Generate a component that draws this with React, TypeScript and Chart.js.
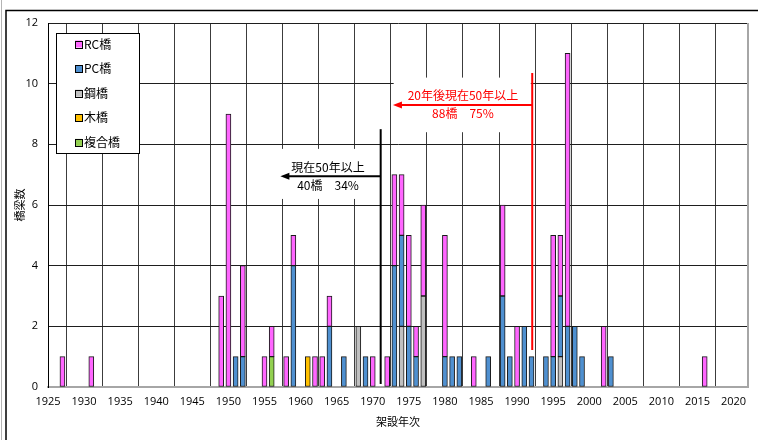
import React, { useEffect, useRef } from 'react';
import { Chart, registerables } from 'chart.js';

Chart.register(...registerables);

// ---- data ----
const years = [1927, 1931, 1949, 1950, 1951, 1952, 1955, 1956, 1958, 1959, 1961, 1962, 1963, 1964, 1966, 1968, 1969, 1970, 1972, 1973, 1974, 1975, 1976, 1977, 1980, 1981, 1982, 1984, 1986, 1988, 1989, 1990, 1991, 1992, 1994, 1995, 1996, 1997, 1998, 1999, 2002, 2003, 2016];
const rcBridges = [1, 1, 3, 9, 0, 3, 1, 1, 1, 1, 0, 1, 1, 1, 0, 0, 0, 1, 1, 3, 2, 3, 1, 3, 4, 0, 0, 1, 0, 3, 0, 2, 0, 0, 0, 4, 2, 9, 0, 0, 2, 0, 1];
const pcBridges = [0, 0, 0, 0, 1, 1, 0, 0, 0, 4, 0, 0, 0, 2, 1, 0, 1, 0, 0, 4, 3, 2, 1, 0, 1, 1, 1, 0, 1, 3, 1, 0, 2, 1, 1, 1, 2, 2, 2, 1, 0, 1, 0];
const steelBridges = [0, 0, 0, 0, 0, 0, 0, 0, 0, 0, 0, 0, 0, 0, 0, 2, 0, 0, 0, 0, 2, 0, 0, 3, 0, 0, 0, 0, 0, 0, 0, 0, 0, 0, 0, 0, 1, 0, 0, 0, 0, 0, 0];
const woodBridges = [0, 0, 0, 0, 0, 0, 0, 0, 0, 0, 1, 0, 0, 0, 0, 0, 0, 0, 0, 0, 0, 0, 0, 0, 0, 0, 0, 0, 0, 0, 0, 0, 0, 0, 0, 0, 0, 0, 0, 0, 0, 0, 0];
const compositeBridges = [0, 0, 0, 0, 0, 0, 0, 1, 0, 0, 0, 0, 0, 0, 0, 0, 0, 0, 0, 0, 0, 0, 0, 0, 0, 0, 0, 0, 0, 0, 0, 0, 0, 0, 0, 0, 0, 0, 0, 0, 0, 0, 0];

const seriesNames = ['RC橋', 'PC橋', '鋼橋', '木橋', '複合橋'];
const seriesColors = ['#ff66ff', '#4f90d0', '#c0c0c0', '#ffc000', '#92d050'];

const xMin = 1925;
const xMax = 2022;
const xTickValues = [1925, 1930, 1935, 1940, 1945, 1950, 1955, 1960, 1965, 1970, 1975, 1980, 1985, 1990, 1995, 2000, 2005, 2010, 2015, 2020];
const yMax = 12;
const yStep = 2;

const xTitle = '架設年次';
const yTitle = '橋梁数';

// annotations (data coordinates)
const nowLabel = ['現在50年以上', '40橋　34%'];
const nowLine = { year: 1971.1, top: 8.5, bottom: 0.1, arrowY: 6.95, arrowTip: 1957.2, textYear: 1963.8 };
const nowBox = { x0: 1956.5, x1: 1970.8, y0: 7.85, y1: 6.2 };
const futureLabel = ['20年後現在50年以上', '88橋　75%'];
const futureLine = { year: 1992.1, top: 10.35, bottom: 1.22, arrowY: 9.3, arrowTip: 1972.8, textYear: 1982.5 };
const futureBox = { x0: 1972.9, x1: 1991.9, y0: 10.2, y1: 8.4 };

const CJK = '"Noto Sans CJK JP", "Noto Sans", sans-serif';
const NUM = '"Open Sans", "Liberation Sans", sans-serif';

function points(values: number[]) {
  return years.map((yr, i) => ({ x: yr, y: values[i] > 0 ? values[i] : null }));
}

function drawAnnotation(chart: any, line: any, box: any, labels: string[], color: string) {
  const ctx = chart.ctx;
  const xs = chart.scales.x;
  const ys = chart.scales.y;
  ctx.save();
  const bx0 = xs.getPixelForValue(box.x0);
  const bx1 = xs.getPixelForValue(box.x1);
  const by0 = ys.getPixelForValue(box.y0);
  const by1 = ys.getPixelForValue(box.y1);
  ctx.fillStyle = '#ffffff';
  ctx.fillRect(bx0, by0, bx1 - bx0, by1 - by0);
  const lx = xs.getPixelForValue(line.year);
  ctx.strokeStyle = color;
  ctx.lineWidth = 2;
  ctx.beginPath();
  ctx.moveTo(lx, ys.getPixelForValue(line.top));
  ctx.lineTo(lx, ys.getPixelForValue(line.bottom));
  ctx.stroke();
  const ay = ys.getPixelForValue(line.arrowY);
  const tip = xs.getPixelForValue(line.arrowTip);
  ctx.beginPath();
  ctx.moveTo(lx, ay);
  ctx.lineTo(tip + 6, ay);
  ctx.stroke();
  ctx.fillStyle = color;
  ctx.beginPath();
  ctx.moveTo(tip, ay);
  ctx.lineTo(tip + 9, ay - 3.5);
  ctx.lineTo(tip + 9, ay + 3.5);
  ctx.closePath();
  ctx.fill();
  const tx = xs.getPixelForValue(line.textYear);
  ctx.font = `12px ${CJK}`;
  ctx.textAlign = 'center';
  ctx.textBaseline = 'middle';
  ctx.fillText(labels[0], tx, ay - 9);
  ctx.fillText(labels[1], tx, ay + 9);
  ctx.restore();
}

const decorPlugin = {
  id: 'decor',
  beforeDraw(chart: any) {
    const ctx = chart.ctx;
    ctx.save();
    ctx.fillStyle = '#ffffff';
    ctx.fillRect(0, 0, chart.width, chart.height);
    ctx.strokeStyle = '#b4b4b4';
    ctx.lineWidth = 1;
    ctx.beginPath();
    ctx.moveTo(1.5, 0);
    ctx.lineTo(1.5, chart.height);
    ctx.stroke();
    ctx.strokeStyle = '#000000';
    ctx.lineWidth = 1.5;
    ctx.beginPath();
    ctx.moveTo(6, chart.height);
    ctx.lineTo(6, 10.5);
    ctx.lineTo(chart.width, 10.5);
    ctx.stroke();
    ctx.restore();
  },
  afterDatasetsDraw(chart: any) {
    const ctx = chart.ctx;
    const a = chart.chartArea;
    ctx.save();
    ctx.strokeStyle = '#a6a6a6';
    ctx.lineWidth = 2;
    ctx.beginPath();
    ctx.moveTo(a.right, a.top);
    ctx.lineTo(a.right, a.bottom);
    ctx.stroke();
    ctx.restore();

    drawAnnotation(chart, nowLine, nowBox, nowLabel, '#000000');
    drawAnnotation(chart, futureLine, futureBox, futureLabel, '#ff0000');

    ctx.save();
    const lx = a.left + 8;
    const ly = a.top + 10;
    const lw = 83;
    const lh = 120;
    ctx.fillStyle = '#ffffff';
    ctx.fillRect(lx, ly, lw, lh);
    ctx.strokeStyle = '#000000';
    ctx.lineWidth = 1;
    ctx.strokeRect(Math.round(lx) + 0.5, Math.round(ly) + 0.5, lw, lh);
    ctx.font = `12px ${CJK}`;
    ctx.textAlign = 'left';
    ctx.textBaseline = 'middle';
    seriesNames.forEach((name, i) => {
      const cy = ly + 11 + i * 24.6;
      ctx.fillStyle = seriesColors[i];
      ctx.fillRect(lx + 19, cy - 3.5, 7, 7);
      ctx.strokeStyle = '#000000';
      ctx.strokeRect(Math.round(lx + 19) + 0.5, Math.round(cy - 3.5) + 0.5, 7, 7);
      ctx.fillStyle = '#000000';
      ctx.fillText(name, lx + 28, cy);
    });

    ctx.font = `11px ${CJK}`;
    ctx.textAlign = 'center';
    ctx.textBaseline = 'middle';
    ctx.fillText(xTitle, (a.left + a.right) / 2, 422);
    ctx.translate(20, (a.top + a.bottom) / 2);
    ctx.rotate(-Math.PI / 2);
    ctx.fillText(yTitle, 0, 0);
    ctx.restore();
  },
};

export default function App() {
  const ref = useRef<HTMLCanvasElement | null>(null);

  useEffect(() => {
    if (!ref.current) return;
    const stackOrder = [
      { name: seriesNames[2], values: steelBridges, color: seriesColors[2] },
      { name: seriesNames[3], values: woodBridges, color: seriesColors[3] },
      { name: seriesNames[4], values: compositeBridges, color: seriesColors[4] },
      { name: seriesNames[1], values: pcBridges, color: seriesColors[1] },
      { name: seriesNames[0], values: rcBridges, color: seriesColors[0] },
    ];
    const chart = new Chart(ref.current, {
      type: 'bar',
      data: {
        datasets: stackOrder.map((s) => ({
          label: s.name,
          data: points(s.values) as any,
          backgroundColor: s.color,
          borderColor: '#1a1a1a',
          borderWidth: 1,
          borderSkipped: false,
          barThickness: 5,
        })),
      },
      options: {
        responsive: false,
        animation: false,
        devicePixelRatio: 1,
        layout: { padding: { top: 23, right: 10, left: 0, bottom: 0 } },
        plugins: { legend: { display: false }, tooltip: { enabled: false } },
        scales: {
          x: {
            type: 'linear',
            stacked: true,
            min: xMin,
            max: xMax,
            offset: false,
            afterFit: (s: any) => { s.height = 53; },
            afterBuildTicks: (s: any) => {
              s.ticks = xTickValues.map((v) => ({ value: v }));
            },
            ticks: {
              autoSkip: false,
              maxRotation: 0,
              padding: 8,
              color: '#000',
              font: { size: 11, family: NUM },
              callback: (v: any) => String(v),
            },
            grid: { color: '#3c3c3c', lineWidth: 1, drawTicks: false },
            border: { display: true, color: '#a6a6a6', width: 2 },
          },
          y: {
            stacked: true,
            min: 0,
            max: yMax,
            afterFit: (s: any) => { s.width = 48; },
            ticks: {
              stepSize: yStep,
              padding: 10,
              color: '#000',
              font: { size: 11, family: NUM },
            },
            grid: { color: '#1e1e1e', lineWidth: 1, drawTicks: false },
            border: { display: true, color: '#000', width: 1 },
          },
        },
      },
      plugins: [decorPlugin],
    } as any);
    return () => chart.destroy();
  }, []);

  return (
    <div style={{ position: 'absolute', left: 0, top: 0, width: 758, height: 440, background: '#fff' }}>
      <canvas ref={ref} width={758} height={440} style={{ display: 'block' }} />
    </div>
  );
}
